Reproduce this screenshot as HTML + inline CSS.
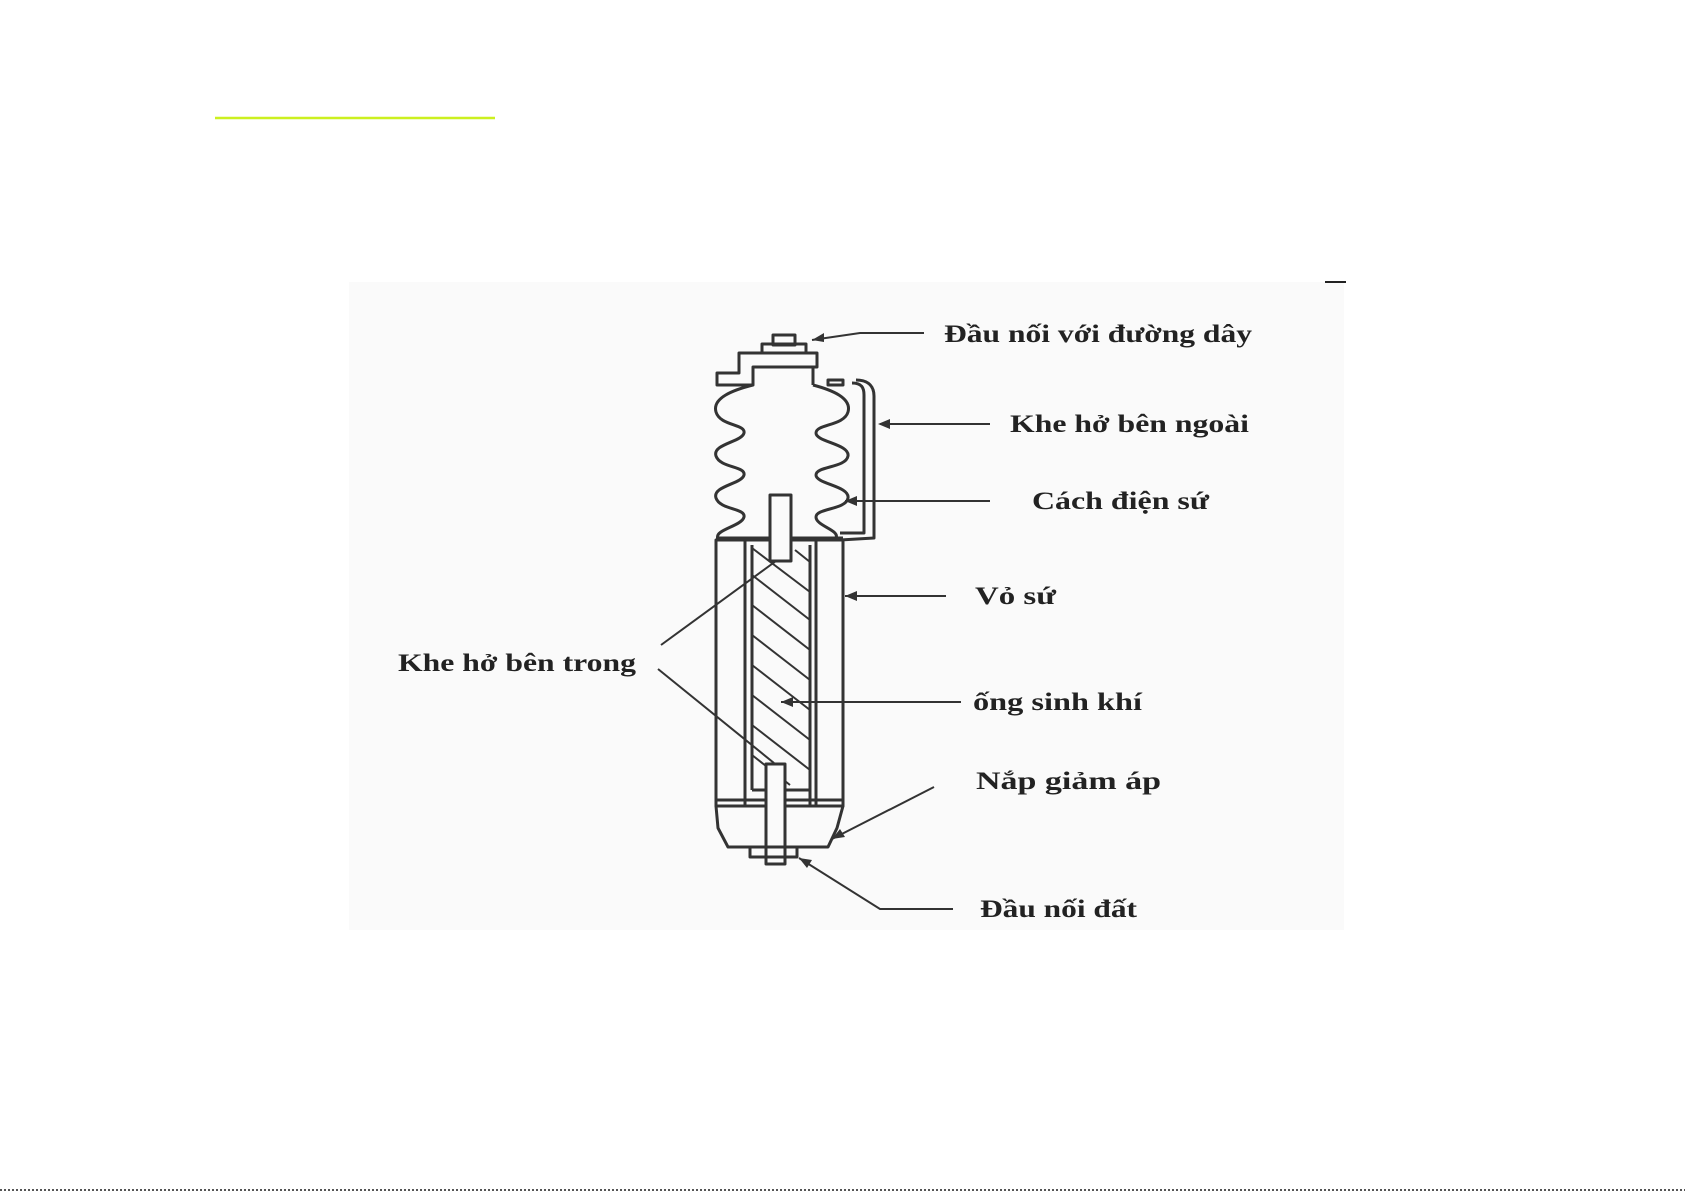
<!DOCTYPE html>
<html><head><meta charset="utf-8"><style>
html,body{margin:0;padding:0;background:#fff;}
svg{display:block;}
text{font-family:"Liberation Serif",serif;font-weight:bold;font-size:25px;fill:#222;}
</style></head><body>
<svg width="1685" height="1191" viewBox="0 0 1685 1191" xmlns="http://www.w3.org/2000/svg">
<rect width="1685" height="1191" fill="#fff"/>
<rect x="349" y="282" width="995" height="648" fill="#fafafa"/>
<line x1="215" y1="118" x2="495" y2="118" stroke="#ccf020" stroke-width="2.5"/>
<line x1="1325" y1="282" x2="1346" y2="282" stroke="#222" stroke-width="2"/>
<line x1="0" y1="1190" x2="1685" y2="1190" stroke="#555" stroke-width="2" stroke-dasharray="2,2"/>
<g fill="none" stroke="#333" stroke-width="3" stroke-linejoin="round">
<rect x="773" y="335" width="22" height="10"/>
<rect x="762" y="344" width="44" height="9"/>
<path d="M717 385 L717 373 L739 373 L739 353 L817 353 L817 367 L753 367 L753 385 Z"/>
<path d="M813 367 L813 385"/>
<rect x="828" y="380" width="15" height="5"/>
<path d="M753 385 C733 390 712 398 716 412 C720 426 746 424 744 433 C742 442 712 444 716 456 C720 468 746 466 744 475 C742 484 712 486 716 498 C720 510 746 508 744 517 C742 526 714 530 718 538"/>
<path d="M813 385 C832 390 852 398 848 412 C844 426 816 424 816 433 C816 442 850 444 848 456 C846 468 816 466 816 475 C816 484 850 486 848 498 C846 510 816 508 816 517 C816 526 840 530 836 538"/>
<path d="M852 383 C862 383 864 388 864 395 L864 533 L840 533"/>
<path d="M856 380 C870 380 874 388 874 396 L874 538 L840 540"/>
<line x1="716" y1="538" x2="843" y2="538"/>
<rect x="716" y="540" width="127" height="266"/>
<line x1="745" y1="540" x2="745" y2="806"/>
<line x1="752" y1="545" x2="752" y2="790"/>
<line x1="810" y1="545" x2="810" y2="806"/>
<line x1="816" y1="540" x2="816" y2="806"/>
<line x1="752" y1="790" x2="810" y2="790"/>
<line x1="716" y1="800" x2="843" y2="800"/>
<g stroke-width="2">
<line x1="752" y1="575" x2="810" y2="620"/>
<line x1="752" y1="605" x2="810" y2="650"/>
<line x1="752" y1="635" x2="810" y2="680"/>
<line x1="752" y1="665" x2="810" y2="710"/>
<line x1="752" y1="695" x2="810" y2="740"/>
<line x1="752" y1="725" x2="810" y2="770"/>
<line x1="752" y1="755" x2="790" y2="785"/>
<line x1="795" y1="550" x2="810" y2="562"/>
<line x1="752" y1="548" x2="810" y2="592"/>
</g>
<rect x="770" y="495" width="21" height="66" fill="#fafafa"/>
<rect x="766" y="764" width="19" height="100" fill="#fafafa"/>
<path d="M716 806 L718 828 L728 847 L828 847 L837 828 L843 806"/>
<rect x="750" y="847" width="47" height="10"/>
</g>
<g fill="none" stroke="#333" stroke-width="2">
<path d="M924 333 L860 333 L812 340"/>
<path d="M990 424 L880 424"/>
<path d="M990 501 L845 501"/>
<path d="M946 596 L845 596"/>
<path d="M961 702 L781 702"/>
<path d="M934 787 L832 839"/>
<path d="M953 909 L880 909 L799 858"/>
<path d="M661 645 L776 561"/>
<path d="M658 669 L774 763"/>
</g>
<g fill="#333">
<path d="M812 340 l12 -7 l0 9 z"/>
<path d="M878 424 l12 -5 l0 10 z"/>
<path d="M845 501 l12 -5 l0 10 z"/>
<path d="M845 596 l12 -5 l0 10 z"/>
<path d="M781 702 l12 -5 l0 10 z"/>
<path d="M832 839 l8 -10 l5 8 z"/>
<path d="M799 858 l13 2 l-5 8 z"/>
</g>
<text x="944" y="342" textLength="308" lengthAdjust="spacingAndGlyphs">Đầu nối với đường dây</text>
<text x="1010" y="432" textLength="239" lengthAdjust="spacingAndGlyphs">Khe hở bên ngoài</text>
<text x="1032" y="509" textLength="177" lengthAdjust="spacingAndGlyphs">Cách điện sứ</text>
<text x="975" y="604" textLength="81" lengthAdjust="spacingAndGlyphs">Vỏ sứ</text>
<text x="973" y="710" textLength="169" lengthAdjust="spacingAndGlyphs">ống sinh khí</text>
<text x="976" y="789" textLength="185" lengthAdjust="spacingAndGlyphs">Nắp giảm áp</text>
<text x="980" y="917" textLength="157" lengthAdjust="spacingAndGlyphs">Đầu nối đất</text>
<text x="398" y="671" textLength="238" lengthAdjust="spacingAndGlyphs">Khe hở bên trong</text>
</svg>
</body></html>
